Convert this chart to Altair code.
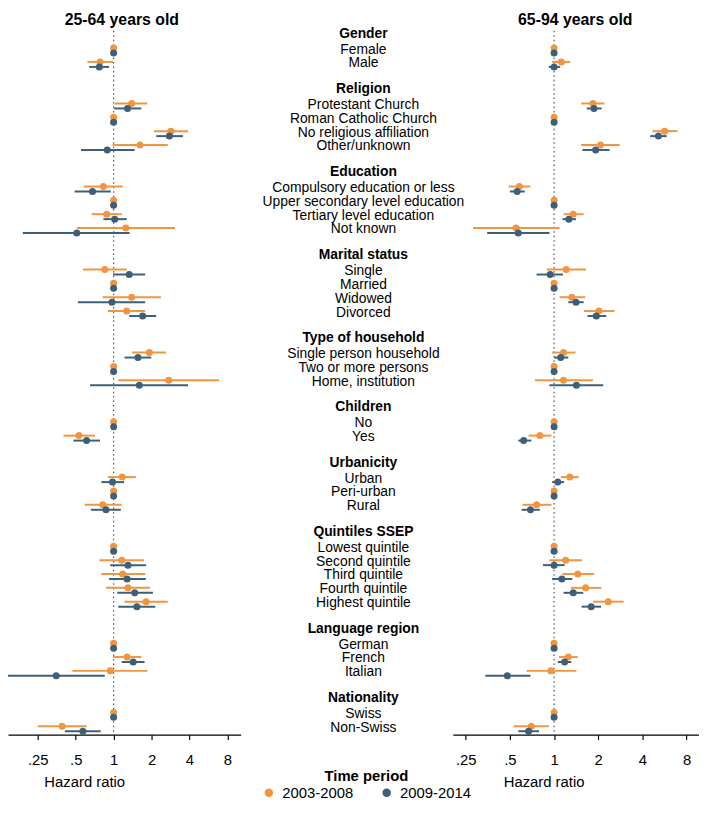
import altair as alt
import pandas as pd

# ---------------- data ----------------
groups = ["Gender", "Religion", "Education", "Marital status", "Type of household",
          "Children", "Urbanicity", "Quintiles SSEP", "Language region", "Nationality"]
items = [
    ["Female", "Male"],
    ["Protestant Church", "Roman Catholic Church", "No religious affiliation", "Other/unknown"],
    ["Compulsory education or less", "Upper secondary level education",
     "Tertiary level education", "Not known"],
    ["Single", "Married", "Widowed", "Divorced"],
    ["Single person household", "Two or more persons", "Home, institution"],
    ["No", "Yes"],
    ["Urban", "Peri-urban", "Rural"],
    ["Lowest quintile", "Second quintile", "Third quintile", "Fourth quintile", "Highest quintile"],
    ["German", "French", "Italian"],
    ["Swiss", "Non-Swiss"],
]
periods = ["2003-2008", "2009-2014"]
panel_titles = ["25-64 years old", "65-94 years old"]
tick_values = [0.25, 0.5, 1, 2, 4, 8]
tick_labels = [".25", ".5", "1", "2", "4", "8"]

# 25-64 years old, 2003-2008
young_p1_hr = [1, 0.78, 1.39, 1, 2.85, 1.62, 0.83, 1, 0.88, 1.25, 0.85, 1, 1.39, 1.27,
               1.92, 1, 2.74, 1, 0.53, 1.17, 1, 0.82, 1, 1.16, 1.18, 1.30, 1.81, 1, 1.28, 0.94, 1, 0.39]
young_p1_lo = [1, 0.62, 1.02, 1, 2.09, 0.98, 0.58, 1, 0.67, 0.51, 0.57, 1, 0.82, 0.90,
               1.40, 1, 1.09, 1, 0.40, 0.90, 1, 0.59, 1, 0.77, 0.80, 0.87, 1.22, 1, 0.99, 0.47, 1, 0.25]
young_p1_hi = [1, 0.99, 1.85, 1, 3.90, 2.69, 1.18, 1, 1.16, 3.07, 1.27, 1, 2.37, 1.78,
               2.61, 1, 6.88, 1, 0.71, 1.50, 1, 1.16, 1, 1.74, 1.78, 1.95, 2.69, 1, 1.66, 1.85, 1, 0.61]
# 25-64 years old, 2009-2014
young_p2_hr = [1, 0.77, 1.29, 1, 2.77, 0.89, 0.68, 1, 1.02, 0.51, 1.33, 1, 0.97, 1.70,
               1.56, 1, 1.60, 1, 0.61, 0.98, 1, 0.87, 1, 1.30, 1.28, 1.47, 1.53, 1, 1.43, 0.35, 1, 0.57]
young_p2_lo = [1, 0.64, 1.01, 1, 2.18, 0.55, 0.49, 1, 0.83, 0.19, 0.99, 1, 0.52, 1.33,
               1.22, 1, 0.65, 1, 0.48, 0.80, 1, 0.66, 1, 0.94, 0.92, 1.07, 1.09, 1, 1.16, 0.145, 1, 0.41]
young_p2_hi = [1, 0.92, 1.66, 1, 3.55, 1.47, 0.95, 1, 1.27, 1.34, 1.78, 1, 1.78, 2.18,
               1.99, 1, 3.90, 1, 0.78, 1.21, 1, 1.14, 1, 1.81, 1.80, 2.05, 2.14, 1, 1.76, 0.85, 1, 0.79]
# 65-94 years old, 2003-2008
old_p1_hr = [1, 1.12, 1.84, 1, 5.67, 2.07, 0.58, 1, 1.35, 0.55, 1.21, 1, 1.32, 2.02,
             1.16, 1, 1.16, 1, 0.80, 1.28, 1, 0.76, 1, 1.20, 1.45, 1.64, 2.34, 1, 1.25, 0.95, 1, 0.70]
old_p1_lo = [1, 0.97, 1.53, 1, 4.68, 1.53, 0.49, 1, 1.16, 0.28, 0.89, 1, 1.09, 1.60,
             0.97, 1, 0.74, 1, 0.67, 1.11, 1, 0.61, 1, 0.93, 1.14, 1.30, 1.84, 1, 1.08, 0.65, 1, 0.53]
old_p1_hi = [1, 1.29, 2.20, 1, 6.94, 2.80, 0.69, 1, 1.59, 1.09, 1.65, 1, 1.63, 2.58,
             1.40, 1, 1.84, 1, 0.96, 1.47, 1, 0.96, 1, 1.55, 1.87, 2.10, 2.98, 1, 1.45, 1.42, 1, 0.92]
# 65-94 years old, 2009-2014
old_p2_hr = [1, 1.00, 1.87, 1, 5.14, 1.92, 0.56, 1, 1.26, 0.57, 0.94, 1, 1.41, 1.94,
             1.11, 1, 1.42, 1, 0.62, 1.06, 1, 0.69, 1, 1.00, 1.13, 1.35, 1.79, 1, 1.18, 0.48, 1, 0.67]
old_p2_lo = [1, 0.92, 1.67, 1, 4.52, 1.56, 0.50, 1, 1.14, 0.35, 0.76, 1, 1.25, 1.69,
             1.00, 1, 0.93, 1, 0.57, 0.97, 1, 0.60, 1, 0.84, 0.97, 1.16, 1.54, 1, 1.06, 0.34, 1, 0.57]
old_p2_hi = [1, 1.10, 2.11, 1, 5.85, 2.39, 0.63, 1, 1.41, 0.93, 1.15, 1, 1.59, 2.27,
             1.25, 1, 2.16, 1, 0.70, 1.17, 1, 0.80, 1, 1.18, 1.33, 1.58, 2.09, 1, 1.31, 0.69, 1, 0.79]

# ---------------- layout of rows ----------------
header_rows, item_rows = [], []
r = 0
for g, its in zip(groups, items):
    header_rows.append({"label": g, "row": r})
    r += 1
    for it in its:
        item_rows.append({"label": it, "row": r})
        r += 1
    r += 1
df_headers = pd.DataFrame(header_rows)
df_items = pd.DataFrame(item_rows)


def panel_df(series):
    recs = []
    for period, (hr, lo, hi), off in zip(periods, series, [-0.18, 0.18]):
        for k, it in enumerate(item_rows):
            recs.append({"period": period, "row": it["row"], "yy": it["row"] + off,
                         "label": it["label"], "hr": hr[k], "lo": lo[k], "hi": hi[k]})
    return pd.DataFrame(recs)


df_young = panel_df([(young_p1_hr, young_p1_lo, young_p1_hi), (young_p2_hr, young_p2_lo, young_p2_hi)])
df_old = panel_df([(old_p1_hr, old_p1_lo, old_p1_hi), (old_p2_hr, old_p2_lo, old_p2_hi)])

FONT = "Liberation Sans"
ORANGE = "#F2953F"
BLUE = "#3E5F78"
W, H = 698, 711

yscale = alt.Scale(domain=[-0.43, 50.43], reverse=True, nice=False, zero=False)
color = alt.Color("period:N", scale=alt.Scale(domain=periods, range=[ORANGE, BLUE]),
                  legend=alt.Legend(title="Time period"))

label_expr = " : ".join(
    f"abs(datum.value - {v}) < 1e-6 ? '{t}'" for v, t in zip(tick_values, tick_labels)
) + " : ''"


def panel(df, domain, rng, title_x):
    xs = alt.Scale(type="log", domain=domain, range=rng, nice=False)
    ax = alt.Axis(values=tick_values, labelExpr=label_expr, title="Hazard ratio",
                  orient="bottom", titleX=title_x, titleY=40, grid=False)
    base = alt.Chart(df)
    ref = alt.Chart(pd.DataFrame({"v": [1]})).mark_rule(
        color="#555555", strokeWidth=1.2, strokeDash=[1.5, 3]).encode(
        x=alt.X("v:Q", scale=xs, axis=ax), y=alt.value(0), y2=alt.value(H))
    ci = base.mark_rule(strokeWidth=2, strokeCap="butt").encode(
        x=alt.X("lo:Q", scale=xs, axis=ax), x2="hi:Q",
        y=alt.Y("yy:Q", scale=yscale, axis=None), color=color,
        order=alt.Order("period:N"))
    pts = base.mark_circle(size=50, opacity=1).encode(
        x=alt.X("hr:Q", scale=xs, axis=ax),
        y=alt.Y("yy:Q", scale=yscale, axis=None), color=color,
        order=alt.Order("period:N"))
    return alt.layer(ref, ci, pts)


left = panel(df_young, [0.145, 10.2], [0, 235], 77)
right = panel(df_old, [0.204, 9.72], [449.3, 698], 541)

item_text = alt.Chart(df_items).mark_text(
    font=FONT, fontSize=14, align="center", baseline="middle", color="black", dy=-1).encode(
    x=alt.value(359), y=alt.Y("row:Q", scale=yscale, axis=None), text="label:N")
head_text = alt.Chart(df_headers).mark_text(
    font=FONT, fontSize=14, fontWeight="bold", align="center", baseline="middle",
    color="black", dy=-3).encode(
    x=alt.value(359), y=alt.Y("row:Q", scale=yscale, axis=None), text="label:N")

df_titles = pd.DataFrame({"t": panel_titles})
title_l = alt.Chart(df_titles.iloc[[0]]).mark_text(
    font=FONT, fontSize=16, fontWeight="bold", align="center", baseline="alphabetic",
    color="black").encode(x=alt.value(115), y=alt.value(-6), text="t:N")
title_r = alt.Chart(df_titles.iloc[[1]]).mark_text(
    font=FONT, fontSize=16, fontWeight="bold", align="center", baseline="alphabetic",
    color="black").encode(x=alt.value(573), y=alt.value(-6), text="t:N")

chart = alt.layer(left, right, item_text, head_text, title_l, title_r).resolve_scale(
    x="independent"
).properties(
    width=W, height=H,
    autosize=alt.AutoSizeParams(type="none"),
    padding={"left": 0, "top": 19, "right": 0, "bottom": 66},
).configure_view(stroke=None).configure_axis(
    domainColor="black", domainWidth=1.2, tickColor="black", tickSize=5, tickWidth=1.2,
    labelFont=FONT, labelFontSize=15, labelColor="black", labelPadding=13,
    titleFont=FONT, titleFontSize=15, titleFontWeight="normal", titleColor="black",
    titleBaseline="top",
).configure_legend(
    orient="none", legendX=256, legendY=746, direction="horizontal",
    titleFont=FONT, titleFontSize=15, titleFontWeight="bold", titleColor="black",
    titleAnchor="middle", titleOrient="top", titlePadding=1,
    labelFont=FONT, labelFontSize=15, labelColor="black", labelOffset=6,
    symbolType="circle", symbolSize=50, symbolOpacity=1, columnPadding=26,
)

chart.save("out.html", embed_options={"renderer": "svg", "actions": False})
